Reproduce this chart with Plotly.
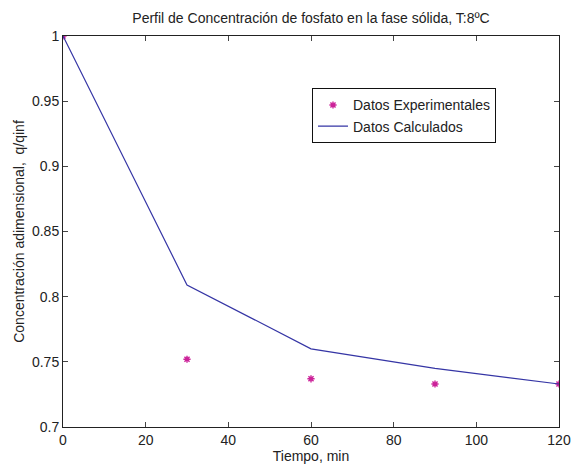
import plotly.graph_objects as go

# Tiempo (min) y concentración adimensional q/qinf
tiempo = [0, 30, 60, 90, 120]
q_experimental = [1.0, 0.752, 0.737, 0.733, 0.733]
q_calculado = [1.0, 0.809, 0.760, 0.745, 0.733]

x_ticks = [0, 20, 40, 60, 80, 100, 120]
y_ticks = [0.7, 0.75, 0.8, 0.85, 0.9, 0.95, 1.0]
y_tick_text = ["0.7", "0.75", "0.8", "0.85", "0.9", "0.95", "1"]

family = "Liberation Sans, Arial, Helvetica, sans-serif"
font = dict(family=family, size=14, color="#222")

fig = go.Figure()
fig.add_trace(go.Scatter(
    x=tiempo, y=q_experimental, mode="markers", name="Datos Experimentales",
    marker=dict(symbol="asterisk-open", size=6, line=dict(color="#cc2299", width=1.4),
                color="#cc2299"),
))
fig.add_trace(go.Scatter(
    x=tiempo, y=q_calculado, mode="lines", name="Datos Calculados",
    line=dict(color="#3535a5", width=1.2),
))

axis_common = dict(
    showline=True, linecolor="#222", linewidth=1, mirror="ticks",
    ticks="inside", ticklen=5, tickcolor="#444", showgrid=False, zeroline=False,
    tickfont=font, automargin=False,
)

fig.update_layout(
    width=573, height=466,
    margin=dict(l=63, r=14, t=36, b=39),
    paper_bgcolor="white", plot_bgcolor="white",
    font=font,
    title=dict(text="Perfil de Concentración de fosfato en la fase sólida, T:8ºC",
               x=0.5, xref="paper", xanchor="center", y=1 - 18 / 466, yanchor="middle",
               font=dict(family=family, size=14, color="#222")),
    xaxis=dict(range=[0, 120], tickvals=x_ticks,
               title=dict(text="Tiempo, min", standoff=0, font=font), **axis_common),
    yaxis=dict(range=[0.7, 1.0], tickvals=y_ticks, ticktext=y_tick_text,
               title=dict(text="Concentración adimensional,  q/qinf", standoff=4, font=font),
               **axis_common),
    legend=dict(x=0.502, y=0.866, xanchor="left", yanchor="top",
                bordercolor="#111", borderwidth=1, bgcolor="white",
                font=dict(family=family, size=14, color="#222"),
                tracegroupgap=0, itemwidth=30),
    showlegend=True,
)

fig.write_html("out.html")
